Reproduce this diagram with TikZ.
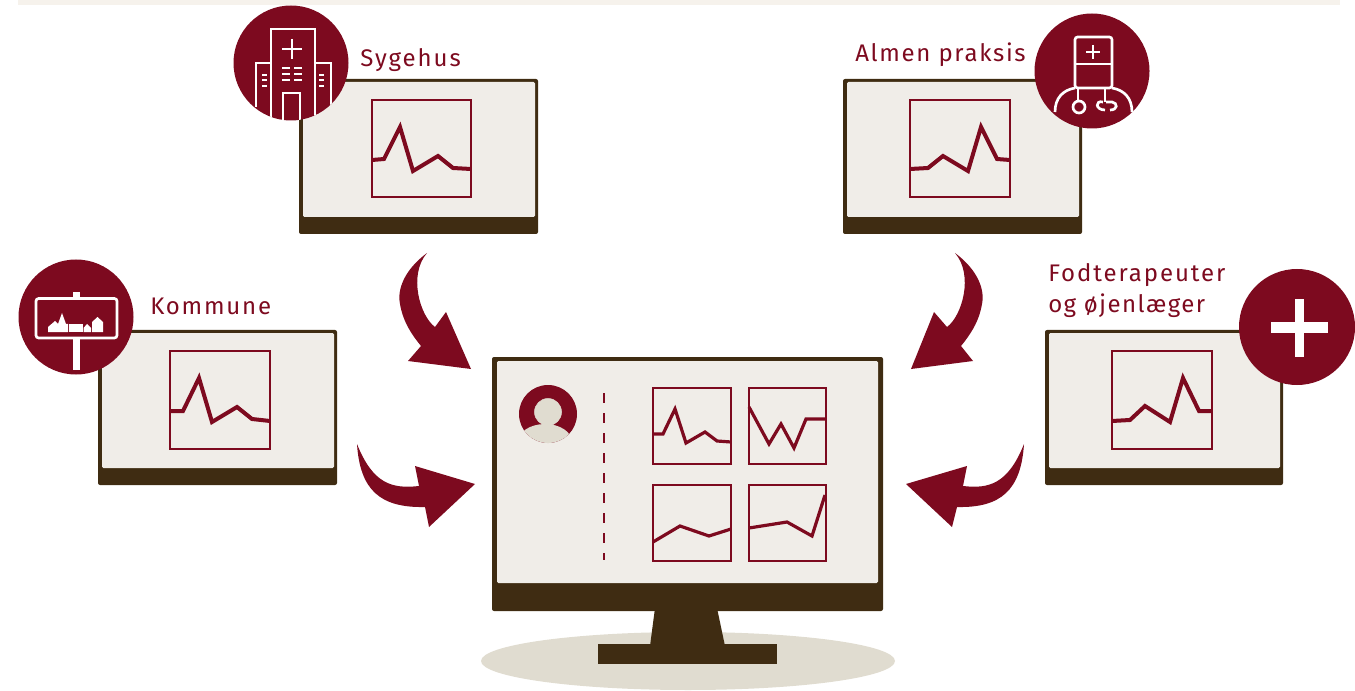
\documentclass[tikz,border=0pt]{standalone}
\usepackage{fontspec}
\setmainfont{Fira Sans}
\newfontfamily\labelfont{Fira Sans}
\usetikzlibrary{positioning}
\definecolor{wine}{HTML}{7D0A1F}
\definecolor{umber}{HTML}{3F2C12}
\definecolor{paper}{HTML}{F0EDE8}
\definecolor{sand}{HTML}{E0DCD0}
\definecolor{strip}{HTML}{F6F2EC}
\tikzstyle{monitor_body}=[fill=umber, rounded corners=1.5]
\tikzstyle{monitor_screen}=[fill=paper, rounded corners=1]
\tikzstyle{chart_box}=[draw=wine, line width=1.25pt, fill=paper]
\tikzstyle{chart_line}=[draw=wine, line width=3pt, line join=miter]
\tikzstyle{mini_line}=[draw=wine, line width=2.4pt, line join=miter]
\tikzstyle{badge}=[fill=wine]
\tikzstyle{icon_line}=[draw=white, line width=2pt]
\tikzstyle{flow_arrow}=[fill=wine]
\tikzstyle{place_label}=[inner sep=0pt, anchor=base west, text=wine, font=\labelfont\fontsize{18}{22}\selectfont]
\begin{document}
\begin{tikzpicture}[x=0.75pt,y=-0.75pt]
\useasboundingbox (0,0) rectangle (1355,691);
\fill[strip] (18,0) rectangle (1340,5);
% central monitor
\fill[sand] (688,661) ellipse (207 and 29);
\fill[umber] (655,608) -- (717,608) -- (725,646) -- (650,646) -- cycle;
\fill[umber] (598,644) rectangle (777,664);
\fill[monitor_body] (492,357) rectangle (883,611);
\fill[monitor_screen] (497,361) rectangle (878,583);
\fill[badge] (548,414) circle (29);
\begin{scope}
\clip (548,414) circle (29);
\fill[sand] (545,442) ellipse (27 and 18);
\end{scope}
\draw[sand, fill=sand] (548,412) circle (13.5);
\draw[wine, line width=1.2pt, dash pattern=on 7.8pt off 7.2pt] (604,393) -- (604,560);
\draw[chart_box] (653,388) rectangle (731,464);
\draw[chart_box] (749,388) rectangle (826,464);
\draw[chart_box] (653,485) rectangle (731,561);
\draw[chart_box] (749,485) rectangle (826,561);
\draw[mini_line] (653,434) -- (663,434) -- (675,409) -- (686,443) -- (705,432) -- (717,441) -- (731,442);
\draw[mini_line] (749,407) -- (769,444) -- (781,424) -- (794,448) -- (806,419) -- (826,419);
\draw[mini_line] (653,542) -- (680,526) -- (709,536) -- (731,529);
\draw[mini_line] (749,528) -- (787,522) -- (812,536) -- (825,495);
% Sygehus
\fill[monitor_body] (299,79) rectangle (538,234);
\fill[monitor_screen] (303,82) rectangle (535,217);
\draw[chart_box] (372,100) rectangle (471,197);
\draw[chart_line] (372,160) -- (384,159) -- (400,127) -- (413,171) -- (438,156) -- (453,168) -- (471,169);
\fill[badge] (291,63) circle (57.5);
\begin{scope}
\clip (291,63) circle (57.5);
\draw[icon_line] (271,125) -- (271,29) -- (315,29) -- (315,125);
\draw[icon_line] (256,107) -- (256,63) -- (271,63);
\draw[icon_line] (315,63) -- (331,63) -- (331,107);
\draw[icon_line] (283,125) -- (283,93) -- (300,93) -- (300,125);
\draw[icon_line] (282,49) -- (302,49);
\draw[icon_line] (292,39) -- (292,59);
\draw[icon_line] (282,68) -- (290,68);
\draw[icon_line] (282,74) -- (290,74);
\draw[icon_line] (282,80) -- (290,80);
\draw[icon_line] (294,68) -- (302,68);
\draw[icon_line] (294,74) -- (302,74);
\draw[icon_line] (294,80) -- (302,80);
\draw[icon_line] (262,75) -- (267,75);
\draw[icon_line] (262,80) -- (267,80);
\draw[icon_line] (262,86) -- (267,86);
\draw[icon_line] (319,75) -- (324,75);
\draw[icon_line] (319,80) -- (324,80);
\draw[icon_line] (319,86) -- (324,86);
\end{scope}
\node[place_label] (label_sygehus) at (360,67) {\addfontfeature{LetterSpace=8}Sygehus};
% Almen praksis
\fill[monitor_body] (843,79) rectangle (1082,234);
\fill[monitor_screen] (847,82) rectangle (1079,217);
\draw[chart_box] (910,100) rectangle (1010,197);
\draw[chart_line] (910,169) -- (928,168) -- (943,156) -- (968,171) -- (981,127) -- (997,159) -- (1010,160);
\fill[badge] (1092,71) circle (57.5);
\draw[icon_line, rounded corners=2] (1075,88) -- (1075,37) -- (1112,37) -- (1112,88) -- cycle;
\draw[icon_line] (1075,64) -- (1112,64);
\draw[icon_line] (1086,52) -- (1100,52);
\draw[icon_line] (1093,45) -- (1093,59);
\draw[icon_line] (1055,112) .. controls (1055,98) and (1063,90) .. (1075,88);
\draw[icon_line] (1132,112) .. controls (1132,98) and (1124,90) .. (1112,88);
\draw[icon_line] (1078,88) -- (1078,101);
\draw[icon_line] (1079,107) circle (6);
\draw[icon_line] (1105,88) -- (1105,102);
\draw[icon_line] (1103,102) .. controls (1095,100) and (1095,110) .. (1105,110);
\draw[icon_line] (1106,102) -- (1112,102) .. controls (1118,103) and (1118,110) .. (1110,110);
\node[place_label] (label_praksis) at (855,62) {\addfontfeature{LetterSpace=7}Almen praksis};
% Kommune
\fill[monitor_body] (98,330) rectangle (337,485);
\fill[monitor_screen] (102,333) rectangle (334,468);
\draw[chart_box] (170,351) rectangle (270,449);
\draw[chart_line] (170,411) -- (183,411) -- (199,378) -- (212,422) -- (237,407) -- (252,419) -- (270,421);
\fill[badge] (76,317) circle (57.5);
\draw[icon_line, line width=4.8pt] (76.5,338) -- (76.5,370);
\draw[icon_line, line width=4.8pt] (76.5,292) -- (76.5,298);
\draw[icon_line, rounded corners=2] (36,298.5) rectangle (117,338);
\fill[white] (48,332) -- (48,327) -- (55,321) -- (58,324) -- (62,313) -- (66,324) -- (68,324) -- (68,332) -- cycle;
\fill[white] (68.5,324) rectangle (83,332);
\fill[white] (83.5,332) -- (83.5,328) -- (87,324) -- (91,328) -- (91,332) -- cycle;
\fill[white] (92,332) -- (92,322) -- (97.5,317) -- (103,322) -- (103,332) -- cycle;
\node[place_label] (label_kommune) at (150,315) {\addfontfeature{LetterSpace=7.5}Kommune};
% Fodterapeuter
\fill[monitor_body] (1045,330) rectangle (1283,485);
\fill[monitor_screen] (1049,333) rectangle (1280,468);
\draw[chart_box] (1112,351) rectangle (1212,449);
\draw[chart_line] (1112,421) -- (1130,420) -- (1145,406) -- (1170,422) -- (1183,378) -- (1199,411) -- (1212,411);
\fill[badge] (1297,327) circle (58);
\fill[white] (1270.5,322) rectangle (1327.5,332.5);
\fill[white] (1294.5,299.5) rectangle (1304,356.5);
\node[place_label] (label_fod) at (1048,282) {\addfontfeature{LetterSpace=8}Fodterapeuter};
\node[place_label] (label_oje) at (1048,313) {\addfontfeature{LetterSpace=6}og øjenlæger};
% arrows
\fill[flow_arrow] (427,253) .. controls (404,270) and (397,290) .. (400,304) .. controls (403,322) and (412,335) .. (421,346) -- (408,361) -- (471,369) -- (446,312) -- (435,327) .. controls (420,316) and (408,275) .. (427,253) -- cycle;
\fill[flow_arrow] (357,444) .. controls (360,490) and (380,508) .. (425,507) -- (429,527) -- (475,484) -- (415,466) -- (419,486) .. controls (392,489) and (373,484) .. (357,444) -- cycle;
\fill[flow_arrow] (955,253) .. controls (978,270) and (985,290) .. (982,304) .. controls (979,322) and (970,335) .. (961,346) -- (973,361) -- (911,369) -- (934,312) -- (947,327) .. controls (962,316) and (974,275) .. (955,253) -- cycle;
\fill[flow_arrow] (1024,444) .. controls (1021,490) and (1001,508) .. (957,507) -- (952,527) -- (906,484) -- (967,466) -- (963,486) .. controls (989,489) and (1008,484) .. (1024,444) -- cycle;
\end{tikzpicture}
\end{document}
